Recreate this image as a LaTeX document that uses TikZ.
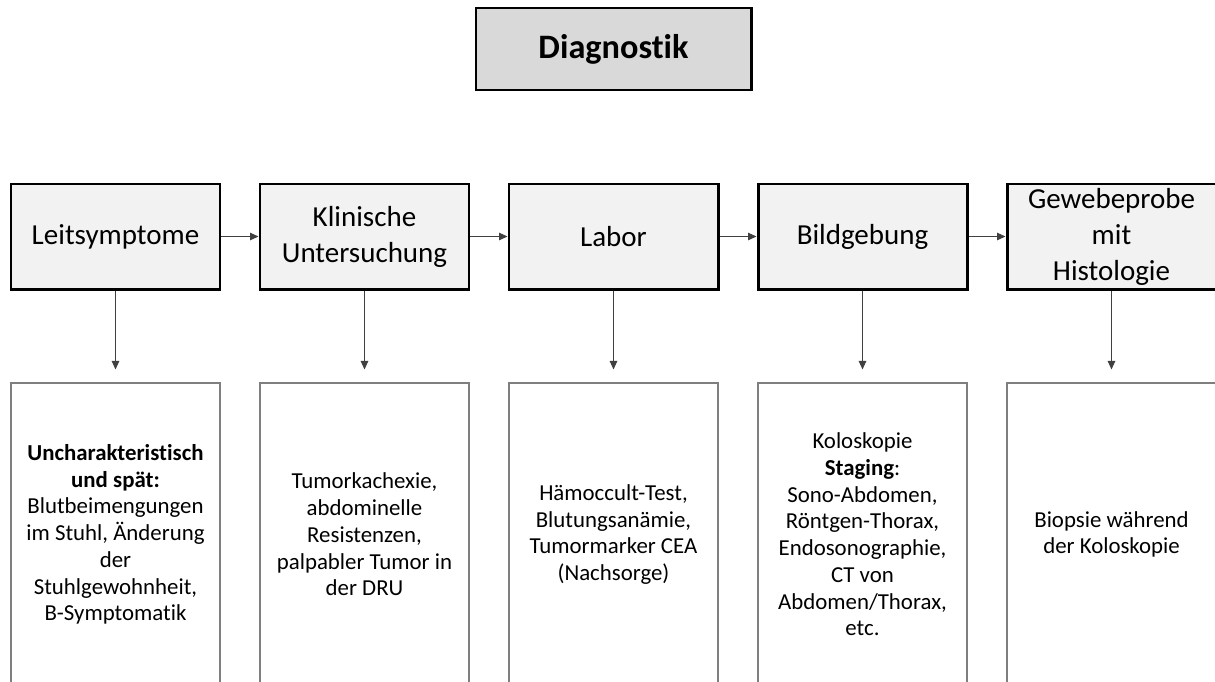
\documentclass[tikz,border=0pt]{standalone}
\usepackage{fontspec}
\setmainfont[Ligatures=NoCommon]{Carlito}
\usetikzlibrary{arrows.meta}
\definecolor{titlegray}{HTML}{D9D9D9}
\definecolor{headgray}{HTML}{F2F2F2}
\definecolor{framegray}{HTML}{7F7F7F}
\definecolor{arrowgray}{HTML}{404040}
\begin{document}
\begin{tikzpicture}[
	titlebox/.style={draw, line width=1.7pt, fill=titlegray, minimum width=5.5cm, minimum height=1.64cm, inner sep=0pt, font=\fontsize{19.5}{23}\selectfont\bfseries},
	headbox/.style={draw, line width=1.7pt, fill=headgray, minimum width=4.18cm, minimum height=2.1cm, inner sep=0pt, align=center, font=\fontsize{16.5}{20.5}\selectfont},
	infobox/.style={draw=framegray, line width=0.6pt, fill=white, minimum width=4.18cm, minimum height=6.06cm, inner sep=0pt, align=center, font=\fontsize{13}{15.2}\selectfont},
	arr/.style={draw=arrowgray, line width=0.6pt, -{Triangle[length=1.7mm, width=1.5mm]}}
]
	\useasboundingbox (0, 0) rectangle (24.3, -13.62);
	\clip (0, 0) rectangle (24.3, -13.62);
	\node[titlebox] at (12.27, -0.98) (title) {\raisebox{-1.5pt}{Diagnostik}};
	\node[headbox] at (2.31, -4.73) (h1) {Leitsymptome};
	\node[headbox] at (7.29, -4.73) (h2) {Klinische\\Untersuchung};
	\node[headbox] at (12.27, -4.73) (h3) {Labor};
	\node[headbox] at (17.25, -4.73) (h4) {Bildgebung};
	\node[headbox] at (22.23, -4.73) (h5) {Gewebeprobe\\mit\\Histologie};
	\node[infobox] at (2.31, -10.69) (i1) {\textbf{Uncharakteristisch}\\\textbf{und spät:}\\Blutbeimengungen\\im Stuhl, Änderung\\der\\Stuhlgewohnheit,\\B-Symptomatik};
	\node[infobox] at (7.29, -10.69) (i2) {Tumorkachexie,\\abdominelle\\Resistenzen,\\palpabler Tumor in\\der DRU};
	\node[infobox] at (12.27, -10.69) (i3) {Hämoccult-Test,\\Blutungsanämie,\\Tumormarker CEA\\(Nachsorge)};
	\node[infobox] at (17.25, -10.69) (i4) {Koloskopie\\\textbf{Staging}:\\Sono-Abdomen,\\Röntgen-Thorax,\\Endosonographie,\\CT von\\Abdomen/Thorax,\\etc.};
	\node[infobox] at (22.23, -10.69) (i5) {Biopsie während\\der Koloskopie};
	\draw[arr] (h1.east) -- (h2.west);
	\draw[arr] (h2.east) -- (h3.west);
	\draw[arr] (h3.east) -- (h4.west);
	\draw[arr] (h4.east) -- (h5.west);
	\draw[arr, shorten >=0.26cm] (h1.south) -- (i1.north);
	\draw[arr, shorten >=0.26cm] (h2.south) -- (i2.north);
	\draw[arr, shorten >=0.26cm] (h3.south) -- (i3.north);
	\draw[arr, shorten >=0.26cm] (h4.south) -- (i4.north);
	\draw[arr, shorten >=0.26cm] (h5.south) -- (i5.north);
\end{tikzpicture}
\end{document}
